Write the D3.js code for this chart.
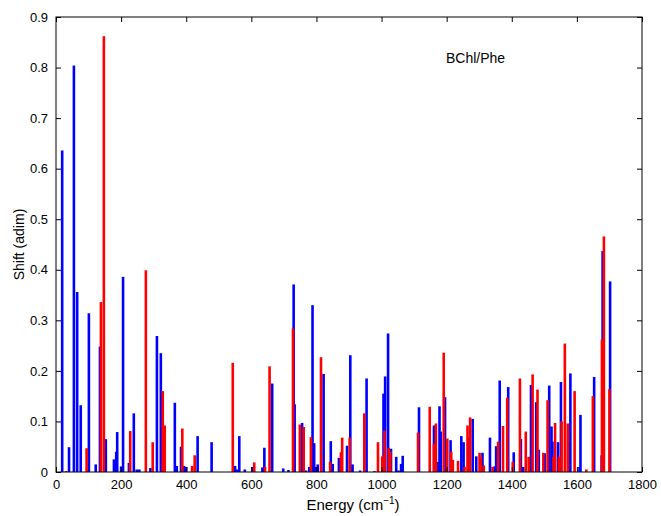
<!DOCTYPE html>
<html>
<head>
<meta charset="utf-8">
<script src="https://cdn.jsdelivr.net/npm/d3@7"></script>
<style>
  body { margin: 0; background: #fff; }
  text { font-family: "Liberation Sans", Arial, sans-serif; }
</style>
</head>
<body>
<div id="chart"></div>
<script>
// blue series (energy in cm-1, shift)
var blueEnergy = [19, 40, 55, 65, 76, 101, 122, 135, 153, 178, 185, 188, 200, 206, 224, 239, 248, 256, 290, 310,
  322, 365, 371, 384, 393, 400, 435, 478, 550, 556, 563, 580, 603, 634, 640, 664, 698, 714, 730, 733,
  756, 768, 778, 788, 793, 799, 804, 822, 844, 850, 869, 894, 904, 911, 934, 954, 1006, 1011, 1020, 1029,
  1045, 1052, 1060, 1065, 1115, 1161, 1173, 1178, 1182, 1195, 1212, 1245, 1252, 1268, 1280, 1291, 1310, 1333, 1347, 1352,
  1363, 1389, 1406, 1428, 1435, 1459, 1475, 1483, 1501, 1515, 1522, 1525, 1542, 1551, 1575, 1580, 1608, 1611, 1653, 1676,
  1679, 1702];
var blueShift = [0.636, 0.049, 0.804, 0.356, 0.132, 0.314, 0.015, 0.248, 0.065, 0.025, 0.040, 0.079, 0.011, 0.386, 0.018, 0.116, 0.005, 0.005, 0.008, 0.269,
  0.235, 0.137, 0.012, 0.050, 0.012, 0.010, 0.071, 0.059, 0.012, 0.005, 0.071, 0.005, 0.010, 0.009, 0.048, 0.175, 0.007, 0.004, 0.371, 0.134,
  0.097, 0.003, 0.010, 0.330, 0.057, 0.010, 0.015, 0.194, 0.061, 0.016, 0.028, 0.052, 0.231, 0.015, 0.003, 0.185, 0.155, 0.189, 0.274, 0.046,
  0.030, 0.003, 0.016, 0.032, 0.128, 0.092, 0.020, 0.130, 0.080, 0.148, 0.063, 0.071, 0.059, 0.068, 0.105, 0.031, 0.038, 0.068, 0.011, 0.051,
  0.181, 0.168, 0.039, 0.065, 0.010, 0.172, 0.138, 0.044, 0.037, 0.171, 0.090, 0.060, 0.059, 0.178, 0.060, 0.195, 0.010, 0.113, 0.188, 0.033,
  0.437, 0.377];

// red series
var redEnergy = [31, 94, 138, 147, 228, 276, 297, 328, 334, 388, 418, 426, 543, 609, 642, 656, 728, 749, 761, 783,
  814, 842, 875, 879, 902, 947, 978, 989, 1002, 1009, 1022, 1027, 1112, 1148, 1161, 1167, 1191, 1202, 1214, 1219,
  1235, 1255, 1264, 1272, 1301, 1305, 1314, 1341, 1358, 1373, 1386, 1403, 1425, 1443, 1452, 1464, 1479, 1497, 1510, 1528,
  1533, 1545, 1553, 1563, 1572, 1593, 1629, 1649, 1677, 1683, 1700];
var redShift = [0.002, 0.047, 0.336, 0.862, 0.081, 0.399, 0.059, 0.160, 0.092, 0.086, 0.012, 0.033, 0.216, 0.019, 0.010, 0.209, 0.284, 0.094, 0.089, 0.069,
  0.227, 0.020, 0.039, 0.068, 0.068, 0.116, 0.002, 0.059, 0.031, 0.082, 0.048, 0.040, 0.078, 0.129, 0.055, 0.096, 0.236, 0.066, 0.040, 0.024,
  0.022, 0.010, 0.092, 0.108, 0.038, 0.030, 0.013, 0.010, 0.060, 0.091, 0.147, 0.020, 0.185, 0.080, 0.030, 0.193, 0.163, 0.038, 0.142, 0.030,
  0.097, 0.030, 0.100, 0.254, 0.096, 0.160, 0.005, 0.150, 0.262, 0.466, 0.164];

var xTicks = [0, 200, 400, 600, 800, 1000, 1200, 1400, 1600, 1800];
var yTicks = [0, 0.1, 0.2, 0.3, 0.4, 0.5, 0.6, 0.7, 0.8, 0.9];

var width = 661, height = 516;
var margin = { top: 17, right: 19, bottom: 44, left: 56 };
var w = width - margin.left - margin.right;
var h = height - margin.top - margin.bottom;

var svg = d3.select("#chart").append("svg")
  .attr("width", width)
  .attr("height", height);

svg.append("rect").attr("width", width).attr("height", height).attr("fill", "#fff");

var g = svg.append("g")
  .attr("transform", "translate(" + margin.left + "," + margin.top + ")");

var x = d3.scaleLinear().domain([0, 1800]).range([0, w]);
var y = d3.scaleLinear().domain([0, 0.9]).range([h, 0]);

var barW = 2.6;

function drawBars(energy, shift, color) {
  var data = energy.map(function (e, i) { return { e: e, v: shift[i] }; });
  g.append("g").selectAll("rect")
    .data(data)
    .enter()
    .append("rect")
    .attr("x", function (d) { return x(d.e) - barW / 2; })
    .attr("y", function (d) { return y(d.v); })
    .attr("width", barW)
    .attr("height", function (d) { return h - y(d.v); })
    .attr("fill", color);
}

drawBars(blueEnergy, blueShift, "#0000ff");
drawBars(redEnergy, redShift, "#ff0000");

// axes, ticks inward like matlab
var tickLen = 5;
var xAxis = g.append("g").attr("transform", "translate(0," + h + ")")
  .call(d3.axisBottom(x).tickValues(xTicks).tickSizeInner(-tickLen).tickSizeOuter(0).tickPadding(8)
    .tickFormat(d3.format("d")));
var xAxisTop = g.append("g")
  .call(d3.axisTop(x).tickValues(xTicks).tickSizeInner(-tickLen).tickSizeOuter(0).tickFormat(""));
var yAxis = g.append("g")
  .call(d3.axisLeft(y).tickValues(yTicks).tickSizeInner(-tickLen).tickSizeOuter(0).tickPadding(8)
    .tickFormat(function (d) { return d === 0 ? "0" : d3.format(".1f")(d); }));
var yAxisRight = g.append("g").attr("transform", "translate(" + w + ",0)")
  .call(d3.axisRight(y).tickValues(yTicks).tickSizeInner(-tickLen).tickSizeOuter(0).tickFormat(""));

[xAxis, xAxisTop, yAxis, yAxisRight].forEach(function (a) {
  a.select(".domain").remove();
  a.selectAll("line").attr("stroke", "#000");
  a.selectAll("text").attr("font-size", 13).attr("fill", "#000")
    .style("font-family", "Liberation Sans, Arial, sans-serif");
});

g.append("rect")
  .attr("width", w).attr("height", h)
  .attr("fill", "none").attr("stroke", "#000").attr("stroke-width", 1);

// labels
var xl = svg.append("text")
  .attr("x", margin.left + w / 2 + 4)
  .attr("y", 510)
  .attr("text-anchor", "middle")
  .attr("font-size", 15);
xl.append("tspan").text("Energy (cm");
xl.append("tspan").attr("dy", -6).attr("font-size", 10).text("\u22121");
xl.append("tspan").attr("dy", 6).text(")");

svg.append("text")
  .attr("transform", "translate(24," + (margin.top + h / 2) + ") rotate(-90)")
  .attr("text-anchor", "middle")
  .attr("font-size", 14)
  .text("Shift (adim)");

g.append("text")
  .attr("x", x(1198))
  .attr("y", y(0.81))
  .attr("font-size", 14)
  .text("BChl/Phe");
</script>
</body>
</html>
